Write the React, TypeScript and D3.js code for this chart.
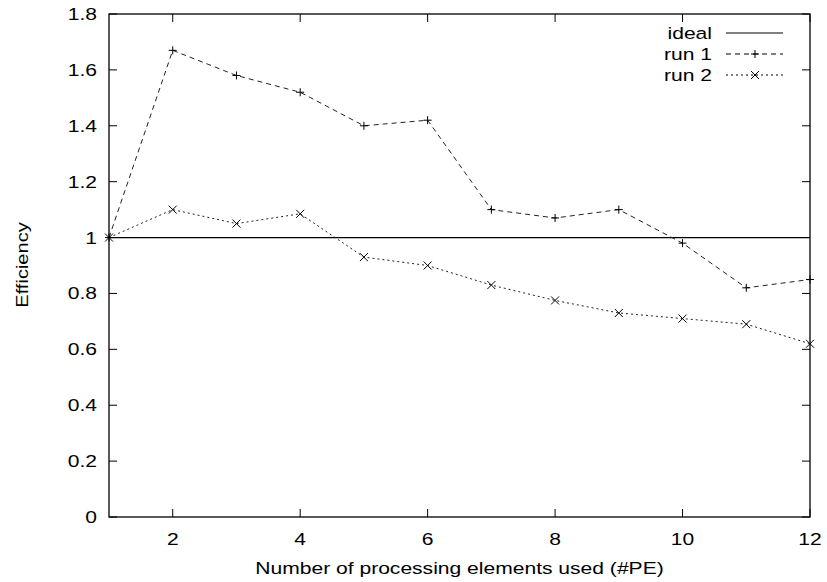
import React, { useEffect, useRef } from "react";
import * as d3 from "d3";

const pes = [1, 2, 3, 4, 5, 6, 7, 8, 9, 10, 11, 12];
const run1 = [1.0, 1.67, 1.58, 1.52, 1.4, 1.42, 1.1, 1.07, 1.1, 0.98, 0.82, 0.85];
const run2 = [1.0, 1.1, 1.05, 1.085, 0.93, 0.9, 0.83, 0.775, 0.73, 0.71, 0.69, 0.62];
const ideal = [1, 1];
const xTicks = [2, 4, 6, 8, 10, 12];
const yTicks = [0, 0.2, 0.4, 0.6, 0.8, 1, 1.2, 1.4, 1.6, 1.8];
const legendLabels = ["ideal", "run 1", "run 2"];

const FONT = "'Liberation Sans', Arial, Helvetica, sans-serif";
const SX = 1.24; // text in the reference is drawn a bit wide

export default function App() {
  const ref = useRef<SVGSVGElement>(null);

  useEffect(() => {
    const width = 827;
    const height = 582;
    const margin = { top: 14, right: 17, bottom: 65, left: 109 };
    const innerW = width - margin.left - margin.right;
    const innerH = height - margin.top - margin.bottom;

    const svg = d3.select(ref.current);
    svg.selectAll("*").remove();

    const x = d3.scaleLinear().domain([1, 12]).range([0, innerW]);
    const y = d3.scaleLinear().domain([0, 1.8]).range([innerH, 0]);

    const g = svg.append("g").attr("transform", `translate(${margin.left},${margin.top})`);

    const text = (parent: any, tx: number, ty: number, s: string, anchor: string, rot = 0, sx = SX) =>
      parent
        .append("text")
        .attr("transform", `translate(${tx},${ty}) rotate(${rot}) scale(${sx},1)`)
        .attr("text-anchor", anchor)
        .attr("font-family", FONT)
        .attr("font-size", 17)
        .attr("fill", "#000")
        .text(s);

    // ticks, mirrored on all sides
    const tl = 8;
    xTicks.forEach((t) => {
      g.append("line").attr("x1", x(t)).attr("x2", x(t)).attr("y1", innerH).attr("y2", innerH - tl).attr("stroke", "#000");
      g.append("line").attr("x1", x(t)).attr("x2", x(t)).attr("y1", 0).attr("y2", tl).attr("stroke", "#000");
      text(g, x(t), innerH + 28, String(t), "middle");
    });
    yTicks.forEach((t) => {
      g.append("line").attr("x1", 0).attr("x2", tl).attr("y1", y(t)).attr("y2", y(t)).attr("stroke", "#000");
      g.append("line").attr("x1", innerW).attr("x2", innerW - tl).attr("y1", y(t)).attr("y2", y(t)).attr("stroke", "#000");
      text(g, -12, y(t) + 6, String(t), "end");
    });

    const line = d3
      .line<number>()
      .x((d, i) => x(pes[i]))
      .y((d) => y(d));

    // ideal line
    g.append("line")
      .attr("x1", x(1))
      .attr("x2", x(12))
      .attr("y1", y(ideal[0]))
      .attr("y2", y(ideal[1]))
      .attr("stroke", "#000")
      .attr("stroke-width", 1.2);

    g.append("path").datum(run1).attr("d", line).attr("fill", "none").attr("stroke", "#222").attr("stroke-dasharray", "5,4");
    g.append("path").datum(run2).attr("d", line).attr("fill", "none").attr("stroke", "#222").attr("stroke-dasharray", "2,3");

    const plus = (px: number, py: number) => {
      g.append("path").attr("d", `M${px - 4},${py}H${px + 4}M${px},${py - 4}V${py + 4}`).attr("stroke", "#000");
    };
    const cross = (px: number, py: number) => {
      g.append("path").attr("d", `M${px - 4},${py - 4}L${px + 4},${py + 4}M${px - 4},${py + 4}L${px + 4},${py - 4}`).attr("stroke", "#000");
    };
    run1.forEach((d, i) => plus(x(pes[i]), y(d)));
    run2.forEach((d, i) => cross(x(pes[i]), y(d)));

    // frame
    g.append("rect").attr("width", innerW).attr("height", innerH).attr("fill", "none").attr("stroke", "#000").attr("stroke-width", 1.3);

    // legend
    const rows = [33, 54, 75];
    legendLabels.forEach((lab, i) => {
      const cy = rows[i];
      text(svg, 712, cy + 6, lab, "end");
      const ln = svg.append("line").attr("x1", 726).attr("x2", 783).attr("y1", cy).attr("y2", cy).attr("stroke", "#000");
      if (i === 1) ln.attr("stroke-dasharray", "5,4");
      if (i === 2) ln.attr("stroke-dasharray", "2,3");
      if (i === 1) svg.append("path").attr("d", `M751,${cy}H759M755,${cy - 4}V${cy + 4}`).attr("stroke", "#000");
      if (i === 2) svg.append("path").attr("d", `M751,${cy - 4}L759,${cy + 4}M751,${cy + 4}L759,${cy - 4}`).attr("stroke", "#000");
    });

    // axis titles
    text(svg, margin.left + innerW / 2, 574, "Number of processing elements used (#PE)", "middle");
    text(svg, 28, 265, "Efficiency", "middle", -90, 1.18);
  }, []);

  return (
    <div style={{ position: "absolute", left: 0, top: 0 }}>
      <svg ref={ref} width={827} height={582} style={{ display: "block", background: "#fff" }} />
    </div>
  );
}
